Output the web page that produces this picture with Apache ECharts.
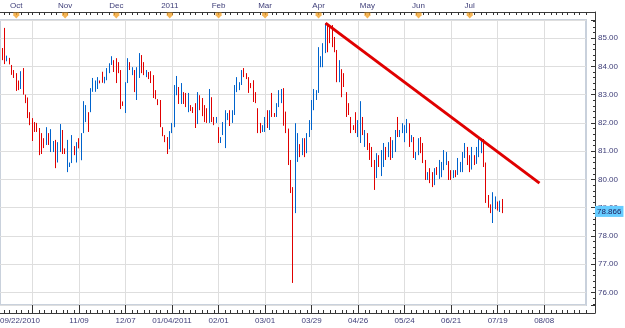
<!DOCTYPE html>
<html><head><meta charset="utf-8">
<script src="https://cdn.jsdelivr.net/npm/echarts@6/dist/echarts.min.js"></script>
<style>html,body{margin:0;padding:0;background:#fff}#c{width:625px;height:328px}</style>
</head><body><div id="c"></div>
<script>
// ---- data (daily candles, 09/22/2010 .. 07/21/2011) ----
const opens = [
85.05,84.60,85.20,84.25,84.28,84.00,83.85,83.70,83.45,83.25,
83.80,82.98,82.85,82.35,82.10,82.00,81.95,81.75,81.55,81.40,
81.25,81.60,81.05,81.02,81.30,80.65,81.05,81.70,81.08,80.35,
80.46,80.65,81.15,80.65,81.42,80.75,81.70,82.08,82.33,82.45,
83.15,83.15,83.25,83.48,83.75,83.42,83.55,83.80,84.10,84.20,
84.25,84.10,83.80,82.72,82.50,83.45,84.12,83.72,83.85,82.90,
83.65,84.35,84.10,83.65,83.78,83.80,83.65,83.12,82.82,82.75,
81.82,81.55,81.45,81.10,81.68,81.90,83.05,83.20,82.75,83.05,
83.00,82.45,82.60,82.54,82.65,82.00,82.95,82.80,82.60,82.45,
82.05,82.85,82.18,82.02,81.80,81.32,81.60,81.60,82.12,82.40,
82.05,82.35,83.15,83.18,83.38,83.90,83.72,83.58,83.38,83.45,
83.05,82.48,81.95,81.70,81.72,82.40,81.80,83.00,82.32,82.24,
82.62,82.80,83.10,81.95,81.70,80.65,79.70,78.85,80.70,81.20,
80.90,81.40,80.95,81.52,81.80,82.50,82.85,83.10,84.00,84.00,
84.50,85.45,85.30,85.40,85.00,84.55,83.50,83.85,83.75,83.05,
82.68,82.20,81.90,82.35,81.55,81.35,82.15,81.20,81.60,81.25,
81.10,80.65,80.10,80.85,80.15,80.50,81.12,80.80,81.45,80.80,
81.00,82.15,81.52,81.68,81.35,81.68,81.95,81.35,81.45,80.72,
80.90,81.45,81.25,80.65,80.00,80.38,80.25,79.85,80.42,80.05,
80.12,80.38,80.55,80.60,80.30,80.08,80.30,80.20,80.30,80.32,
80.80,81.12,80.85,80.40,80.82,80.60,80.90,81.10,81.40,80.55,
79.30,79.10,78.85,79.05,79.20,78.95,79.20];
const closes = [
84.40,84.30,84.20,84.32,84.12,83.75,83.62,83.20,83.20,83.75,
83.05,82.75,82.25,81.98,81.45,81.72,81.72,80.95,81.00,81.15,
81.80,81.28,81.70,81.30,80.50,81.25,81.90,80.95,80.92,81.30,
80.58,81.50,80.90,81.28,81.15,81.60,82.70,82.58,81.75,83.18,
83.55,83.45,83.58,83.42,83.45,83.60,83.90,84.08,84.32,83.85,
83.50,83.80,82.65,82.65,83.35,84.20,83.90,83.95,83.20,83.90,
84.40,83.85,83.75,83.85,83.58,83.45,83.00,82.88,82.68,81.95,
81.58,81.38,81.00,81.65,81.95,83.25,83.55,82.75,83.35,82.72,
82.62,82.98,82.45,82.40,81.95,82.95,82.55,82.30,82.10,82.08,
83.05,82.15,81.98,82.18,81.35,81.45,81.98,82.35,82.32,81.95,
82.40,83.25,83.55,83.40,83.82,83.65,83.58,83.12,83.25,82.80,
82.75,81.72,81.70,81.88,82.15,81.88,82.38,82.30,82.24,82.62,
83.05,83.15,81.95,81.70,80.65,79.60,79.00,80.90,81.50,80.85,
81.40,80.90,81.55,82.00,82.70,83.10,83.10,84.60,84.30,84.80,
85.45,84.55,84.85,84.75,84.55,83.50,84.15,82.95,83.30,82.25,
82.32,81.70,81.78,81.70,82.05,82.70,81.62,81.70,81.10,80.75,
80.50,79.70,80.88,80.48,80.98,81.25,80.72,81.28,80.75,81.35,
81.70,81.55,81.72,81.95,81.88,82.10,81.20,81.55,80.80,80.93,
81.40,80.98,80.65,80.02,80.23,79.92,79.78,80.35,80.20,80.62,
80.55,80.98,80.92,80.05,80.02,80.30,80.12,80.70,80.58,80.90,
81.25,80.55,80.30,81.10,80.55,81.12,81.40,81.42,80.50,79.30,
79.10,78.90,79.30,79.25,78.95,79.15,78.866];
const lows = [
84.22,84.22,84.08,84.18,84.07,83.70,83.59,83.13,83.16,83.20,
83.00,82.70,82.17,81.92,81.36,81.68,81.68,80.86,80.90,81.11,
81.22,81.22,80.97,80.97,80.40,80.60,80.97,80.90,80.90,80.26,
80.44,80.58,80.86,80.60,81.10,80.68,81.64,82.03,81.68,82.38,
83.10,83.10,83.20,83.40,83.42,83.40,83.51,83.76,84.05,83.80,
83.41,83.76,82.49,82.60,82.35,83.41,83.87,83.69,83.09,82.81,
83.59,83.76,83.69,83.62,83.55,83.41,82.88,82.84,82.63,81.85,
81.53,81.32,80.90,81.07,81.64,81.85,82.98,82.67,82.67,82.67,
82.56,82.38,82.42,82.35,81.82,81.96,82.45,82.24,82.03,82.00,
82.00,82.03,81.92,82.00,81.29,81.29,81.57,81.11,82.10,81.89,
82.00,82.28,83.09,83.16,83.34,83.62,83.55,83.06,83.23,82.74,
82.70,81.64,81.64,81.68,81.68,81.82,81.75,82.21,82.21,82.21,
82.56,82.70,81.90,81.64,80.51,79.52,76.34,78.81,80.62,80.79,
80.86,80.79,80.93,81.50,81.75,82.45,82.81,83.06,83.97,83.97,
84.47,84.50,84.82,84.68,84.50,83.44,83.44,82.91,83.27,82.21,
82.28,81.64,81.75,81.64,81.50,81.29,81.57,81.15,81.04,80.69,
80.44,79.63,80.05,80.44,80.12,80.44,80.69,80.79,80.69,80.76,
80.97,81.50,81.50,81.64,81.32,81.64,81.15,81.32,80.76,80.69,
80.86,80.93,80.58,79.98,79.98,79.87,79.73,79.80,80.16,80.02,
80.08,80.33,80.51,79.98,79.98,80.05,80.08,80.16,80.26,80.26,
80.76,80.51,80.26,80.35,80.51,80.55,80.79,80.93,80.44,79.17,
79.00,78.81,78.46,78.95,78.90,78.85,78.81];
const highs = [
85.14,84.65,85.36,84.38,84.30,84.05,83.87,83.76,83.50,83.83,
83.94,83.00,82.90,82.38,82.17,82.03,82.00,81.82,81.64,81.46,
81.85,81.64,81.78,81.36,81.40,81.32,81.96,81.75,81.10,81.40,
80.60,81.57,81.18,81.32,81.46,81.64,82.77,82.63,82.38,83.23,
83.59,83.50,83.62,83.50,83.81,83.63,83.94,84.11,84.36,84.22,
84.29,84.15,83.87,82.76,83.44,84.29,84.15,83.97,83.87,83.97,
84.47,84.40,84.15,83.87,83.80,83.83,83.69,83.16,82.84,82.81,
81.85,81.57,81.50,81.71,82.00,83.34,83.66,83.27,83.41,83.09,
83.06,83.06,82.63,82.56,82.70,83.09,82.98,82.88,82.63,82.52,
83.20,82.91,82.21,82.21,81.85,81.50,82.03,82.45,82.35,82.45,
82.45,83.34,83.62,83.44,83.87,83.94,83.76,83.62,83.41,83.51,
83.09,82.52,82.00,81.92,82.21,82.45,82.45,83.06,82.35,82.70,
83.16,83.20,83.23,82.40,81.80,80.69,79.73,81.99,81.64,81.25,
81.46,81.46,81.64,82.10,82.81,83.20,83.16,84.68,84.36,84.82,
85.53,85.50,85.39,85.46,85.04,84.58,84.22,83.90,83.76,83.09,
82.70,82.21,81.92,82.38,82.10,82.77,82.21,81.75,81.64,81.29,
81.15,80.69,80.93,80.86,81.04,81.29,81.15,81.32,81.50,81.39,
81.75,82.21,81.75,81.99,81.92,82.14,81.99,81.57,81.50,80.97,
81.46,81.50,81.29,80.69,80.26,80.40,80.26,80.40,80.44,80.69,
80.62,81.04,80.97,80.65,80.33,80.33,80.33,80.76,80.62,80.97,
81.29,81.15,80.86,81.15,80.86,81.15,81.43,81.46,81.43,80.60,
79.45,79.12,79.55,79.40,79.22,79.25,79.31];

const slotCount = 253;                 // trading-day slots incl. empty future space
const gridIdx = [14,34,54,74,94,114,134,154,174,194,214,234];
const bottomTickIdx = [0,34,54,74,94,114,134,154,174,194,214,234];
const bottomTickText = ['09/22/2010','11/09','12/07','01/04/2011','02/01','03/01','03/29','04/26','05/24','06/21','07/19','08/08'];
const monthIdx = [7,28,50,73,94,114,137,158,180,202];
const monthText = ['Oct','Nov','Dec','2011','Feb','Mar','Apr','May','Jun','Jul'];
const trendFrom = [140, 85.53];
const trendTo = [232, 79.87];
const lastPrice = 78.866;

// ---- build ----
const categories = [];
for (let i = 0; i < slotCount; i++) categories.push(String(i));
const candles = opens.map((o, i) => [o, closes[i], lows[i], highs[i]]);

const LBL = '#3d3d78';
const FONT = 'Liberation Sans';
const isGrid = (i) => gridIdx.indexOf(i) >= 0;
const isMinor = (i) => { const m = ((i - 14) % 5 + 5) % 5; return m === 0 || m === 3; };

const hidden = {axisLine:{show:false}, axisTick:{show:false}, axisLabel:{show:false}, splitLine:{show:false}};
const catBase = (grid) => Object.assign({type:'category', gridIndex:grid, data:categories, boundaryGap:false}, JSON.parse(JSON.stringify(hidden)));

const chart = echarts.init(document.getElementById('c'), null, {renderer:'canvas'});
const xAxes = [];
// 0: main (split lines)
const x0 = catBase(0);
x0.splitLine = {show:true, interval:(i)=>isGrid(i), lineStyle:{color:'#dedede', width:1}};
xAxes.push(x0);
// 1: bottom majors + labels
const x1 = catBase(0);
x1.position = 'bottom'; x1.offset = 8;
x1.axisTick = {show:true, inside:true, length:8, interval:(i)=>isGrid(i), lineStyle:{color:'#333'}};
x1.axisLabel = {show:true, interval:(i)=>bottomTickIdx.indexOf(i) >= 0, margin:4, color:LBL, fontFamily:FONT, fontSize:8,
  formatter:(v)=>{ const k = bottomTickIdx.indexOf(Number(v)); if (k < 0) return ''; return k === 0 ? '{f|' + bottomTickText[k] + '}' : bottomTickText[k]; },
  rich:{f:{padding:[0,0,0,40], color:LBL, fontFamily:FONT, fontSize:8}}};
xAxes.push(x1);
// 2: bottom minors
const x2 = catBase(0);
x2.position = 'bottom'; x2.offset = 8;
x2.axisTick = {show:true, inside:true, length:3, interval:(i)=>isMinor(i), lineStyle:{color:'#333'}};
xAxes.push(x2);
// 3: top months
const x3 = catBase(0);
x3.position = 'top'; x3.offset = 8;
x3.axisTick = {show:true, inside:true, length:3, interval:(i)=>isMinor(i), lineStyle:{color:'#333'}};
x3.axisLabel = {show:true, interval:(i)=>monthIdx.indexOf(i) >= 0, margin:2, color:LBL, fontFamily:FONT, fontSize:8,
  formatter:(v)=>{ const k = monthIdx.indexOf(Number(v)); return k < 0 ? '' : monthText[k]; }};
xAxes.push(x3);
// 4: marker strip
xAxes.push(catBase(1));
// 5,6: frame top/bottom
xAxes.push({type:'value', gridIndex:2, min:0, max:1, position:'top', axisLine:{show:true, onZero:false, lineStyle:{color:'#3a3a3a', width:1}}, axisTick:{show:false}, axisLabel:{show:false}, splitLine:{show:false}});
xAxes.push({type:'value', gridIndex:2, min:0, max:1, position:'bottom', axisLine:{show:true, onZero:false, lineStyle:{color:'#3a3a3a', width:1}}, axisTick:{show:false}, axisLabel:{show:false}, splitLine:{show:false}});

const option = {
  animation:false,
  backgroundColor:'#ffffff',
  grid:[
    {left:0, top:20, width:586, height:285, show:true, borderColor:'#c9d1dc', borderWidth:2, backgroundColor:'#ffffff', containLabel:false, outerBoundsMode:'none'},
    {left:0, top:12, width:586, height:7, containLabel:false, outerBoundsMode:'none'},
    {left:0, top:12, width:595, height:301, containLabel:false, outerBoundsMode:'none'}
  ],
  xAxis:xAxes,
  yAxis:[
    {type:'value', gridIndex:0, position:'right', offset:9, min:75.56, max:85.64, splitNumber:10, scale:true,
     axisLine:{show:false}, axisTick:{show:true, inside:true, length:4, lineStyle:{color:'#333'}},
     minorTick:{show:true, splitNumber:5, length:2, lineStyle:{color:'#333'}},
     axisLabel:{show:true, showMinLabel:false, showMaxLabel:false, margin:3, color:LBL, fontFamily:FONT, fontSize:8, formatter:(v)=>v.toFixed(2)},
     splitLine:{show:true, lineStyle:{color:'#dedede', width:1}}},
    {type:'value', gridIndex:1, min:0, max:1, show:false},
    {type:'value', gridIndex:2, min:0, max:1, position:'right', axisLine:{show:true, onZero:false, lineStyle:{color:'#3a3a3a', width:1}}, axisTick:{show:false}, axisLabel:{show:false}, splitLine:{show:false}}
  ],
  series:[
    {type:'candlestick', xAxisIndex:0, yAxisIndex:0, data:candles, barWidth:1.2,
     itemStyle:{color:'#0063cc', color0:'#e00000', borderColor:'#0063cc', borderColor0:'#e00000', borderWidth:1},
     markLine:{silent:true, symbol:['none','none'], animation:false,
       data:[
         {yAxis:lastPrice, lineStyle:{color:'rgba(0,0,0,0)', width:0},
          label:{show:true, position:'end', distance:9, backgroundColor:'#66ccff', color:'#1d1d5a', padding:[2,2,1,2], fontFamily:FONT, fontSize:8, formatter:lastPrice.toFixed(3)}},
         [{coord:[trendFrom[0], trendFrom[1]], lineStyle:{color:'#e00000', width:3, type:'solid'}, label:{show:false}},
          {coord:[trendTo[0], trendTo[1]]}]
       ]}},
    {type:'scatter', xAxisIndex:4, yAxisIndex:1, data:monthIdx.map(i=>[i, 0.5]), silent:true,
     symbol:'path://M0,0 L10,0 L10,5 L5,11 L0,5 Z', symbolSize:[6,6], itemStyle:{color:'#f2a22c'}}
  ]
};
chart.setOption(option);
</script>
</body></html>
